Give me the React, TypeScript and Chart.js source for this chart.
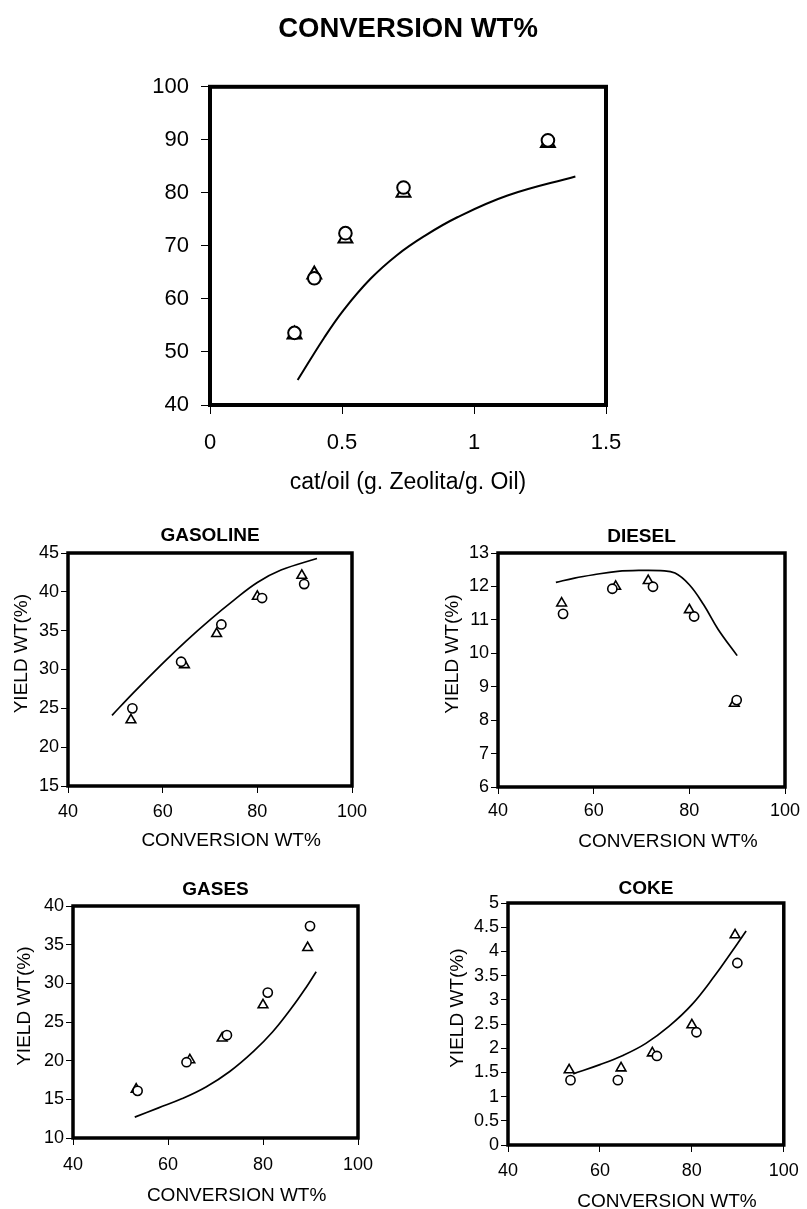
import React, { useEffect, useRef } from "react";
import { Chart, registerables } from "chart.js";

Chart.register(...registerables);

const FONT = "'Liberation Sans', Arial, Helvetica, sans-serif";

// ---------- shared experimental conversions (wt%) ----------
const conversionCircles = [53.6, 63.9, 72.4, 81.0, 89.9];
const conversionTriangles = [53.3, 64.6, 71.4, 80.0, 89.4];

// ---------- top chart: conversion vs cat/oil ----------
const catOil = [0.32, 0.395, 0.513, 0.733, 1.28];
const modelCatOil = [0.332, 0.43, 0.506, 0.608, 0.709, 0.81, 0.937, 1.127, 1.384];
const modelConversion = [44.7, 52.5, 57.9, 63.8, 68.3, 71.8, 75.4, 79.5, 83.1];
const topXTicks = [0, 0.5, 1, 1.5];
const topYTicks = [40, 50, 60, 70, 80, 90, 100];

// ---------- gasoline ----------
const gasolineCircles = [25.0, 31.0, 35.8, 39.2, 41.0];
const gasolineTriangles = [23.5, 30.6, 34.6, 39.4, 42.1];
const gasolineModelX = [49.3, 53.8, 60, 65, 70, 75, 80, 85, 92.6];
const gasolineModelY = [24.1, 27.0, 30.8, 33.7, 36.4, 38.9, 41.2, 42.8, 44.3];
const gasolineYTicks = [15, 20, 25, 30, 35, 40, 45];

// ---------- diesel ----------
const dieselCircles = [11.18, 11.93, 11.99, 11.1, 8.6];
const dieselTriangles = [11.5, 12.0, 12.17, 11.3, 8.5];
const dieselModelX = [52.1, 56, 60, 65, 70, 74, 77, 80, 83, 86, 90];
const dieselModelY = [12.12, 12.25, 12.35, 12.45, 12.48, 12.47, 12.4, 12.05, 11.45, 10.72, 9.93];
const dieselYTicks = [6, 7, 8, 9, 10, 11, 12, 13];

// ---------- gases ----------
const gasesCircles = [16.1, 19.8, 23.3, 28.8, 37.4];
const gasesTriangles = [16.3, 20.1, 22.9, 27.2, 34.6];
const gasesModelX = [53, 58, 63, 68, 73, 78, 82, 86, 89, 91.2];
const gasesModelY = [12.7, 13.9, 15.1, 16.6, 18.6, 21.2, 23.7, 26.8, 29.4, 31.5];
const gasesYTicks = [10, 15, 20, 25, 30, 35, 40];

// ---------- coke ----------
const cokeCircles = [1.34, 1.34, 1.84, 2.33, 3.76];
const cokeTriangles = [1.55, 1.59, 1.9, 2.48, 4.34];
const cokeModelX = [54.2, 60, 65, 70, 75, 80, 85, 88, 91.8];
const cokeModelY = [1.47, 1.66, 1.85, 2.1, 2.45, 2.9, 3.5, 3.9, 4.42];
const cokeYTicks = [0, 0.5, 1, 1.5, 2, 2.5, 3, 3.5, 4, 4.5, 5];

const conversionXTicks = [40, 60, 80, 100];

type Box = { left: number; top: number; width: number; height: number };
type Area = { left: number; top: number; right: number; bottom: number };

type PanelSpec = {
  canvas: Box;
  area: Area;
  title: string;
  titleSize: number;
  titlePad: [number, number];
  xMin: number;
  xMax: number;
  xTicks: number[];
  yMin: number;
  yMax: number;
  yTicks: number[];
  tickSize: number;
  tickLen: number;
  xTickPad: number;
  yTickPad: number;
  xTitle: string;
  xTitleSize: number;
  xTitlePad: number;
  yTitle: string;
  yTitleSize: number;
  yTitlePad: number;
  frame: number;
  rCircle: number;
  rTriangle: number;
  markerBorder: number;
  lineWidth: number;
  cx: number[];
  cy: number[];
  tx: number[];
  ty: number[];
  lx: number[];
  ly: number[];
};

const framePlugin = {
  id: "frame",
  beforeDatasetsDraw(chart: any, _args: any, opts: any) {
    const { left, top, right, bottom } = chart.chartArea;
    const ctx = chart.ctx;
    ctx.save();
    ctx.strokeStyle = "#000";
    ctx.lineWidth = opts.width || 3;
    ctx.strokeRect(left, top, right - left, bottom - top);
    ctx.restore();
  },
};

function pts(xs: number[], ys: number[]) {
  return xs.map((x, i) => ({ x, y: ys[i] }));
}

function makeConfig(p: PanelSpec) {
  const yWidth = p.area.left - p.canvas.left;
  const xHeight = p.canvas.top + p.canvas.height - p.area.bottom;
  const padRight = p.canvas.left + p.canvas.width - p.area.right;
  const grid = {
    display: true,
    drawOnChartArea: false,
    drawTicks: true,
    tickLength: p.tickLen,
    color: "#000",
    lineWidth: 1,
  };
  return {
    type: "scatter",
    data: {
      datasets: [
        {
          label: "circles",
          data: pts(p.cx, p.cy),
          pointStyle: "circle",
          pointRadius: p.rCircle,
          pointBorderWidth: p.markerBorder,
          pointBorderColor: "#000",
          pointBackgroundColor: "#fff",
          showLine: false,
        },
        {
          label: "triangles",
          data: pts(p.tx, p.ty),
          pointStyle: "triangle",
          pointRadius: p.rTriangle,
          pointBorderWidth: p.markerBorder,
          pointBorderColor: "#000",
          pointBackgroundColor: "#fff",
          showLine: false,
        },
        {
          label: "model",
          data: pts(p.lx, p.ly),
          showLine: true,
          pointRadius: 0,
          borderColor: "#000",
          borderWidth: p.lineWidth,
          tension: 0.4,
          fill: false,
        },
      ],
    },
    options: {
      responsive: false,
      maintainAspectRatio: false,
      animation: false,
      events: [],
      devicePixelRatio: 1,
      layout: { padding: { left: 0, top: 0, right: padRight, bottom: 0 } },
      plugins: {
        legend: { display: false },
        tooltip: { enabled: false },
        title: {
          display: true,
          text: p.title,
          fullSize: false,
          color: "#000",
          font: { family: FONT, size: p.titleSize, weight: "bold", lineHeight: 1.2 },
          padding: { top: p.titlePad[0], bottom: p.titlePad[1] },
        },
        frame: { width: p.frame },
      },
      scales: {
        x: {
          type: "linear",
          position: "bottom",
          min: p.xMin,
          max: p.xMax,
          afterFit: (s: any) => {
            s.height = xHeight;
          },
          afterBuildTicks: (s: any) => {
            s.ticks = p.xTicks.map((value) => ({ value }));
          },
          ticks: {
            color: "#000",
            autoSkip: false,
            maxRotation: 0,
            padding: p.xTickPad,
            font: { family: FONT, size: p.tickSize, lineHeight: 1.2 },
            callback: (v: any) => String(v),
          },
          grid,
          border: { display: false },
          title: {
            display: true,
            text: p.xTitle,
            color: "#000",
            font: { family: FONT, size: p.xTitleSize, lineHeight: 1.2 },
            padding: { top: 0, bottom: p.xTitlePad },
          },
        },
        y: {
          type: "linear",
          position: "left",
          min: p.yMin,
          max: p.yMax,
          afterFit: (s: any) => {
            s.width = yWidth;
          },
          afterBuildTicks: (s: any) => {
            s.ticks = p.yTicks.map((value) => ({ value }));
          },
          ticks: {
            color: "#000",
            autoSkip: false,
            padding: p.yTickPad,
            font: { family: FONT, size: p.tickSize, lineHeight: 1.2 },
            callback: (v: any) => String(v),
          },
          grid,
          border: { display: false },
          title: {
            display: p.yTitle.length > 0,
            text: p.yTitle,
            color: "#000",
            font: { family: FONT, size: p.yTitleSize, lineHeight: 1.2 },
            padding: { top: p.yTitlePad, bottom: 0 },
          },
        },
      },
    },
    plugins: [framePlugin],
  };
}

const Y_TITLE = "      YIELD WT(%)";
const subCommon = {
  titleSize: 19,
  xMin: 40,
  xMax: 100,
  xTicks: conversionXTicks,
  tickSize: 18,
  tickLen: 7,
  yTickPad: 2,
  xTitleSize: 19,
  yTitle: Y_TITLE,
  yTitleSize: 19,
  frame: 3.5,
  rCircle: 4.6,
  rTriangle: 5.6,
  markerBorder: 1.6,
  lineWidth: 1.7,
  cx: conversionCircles,
  tx: conversionTriangles,
};

const panels: PanelSpec[] = [
  {
    canvas: { left: 0, top: 0, width: 807, height: 510 },
    area: { left: 210, top: 86, right: 606, bottom: 405 },
    title: "CONVERSION WT%",
    titleSize: 27.5,
    titlePad: [13, 40.8],
    xMin: 0,
    xMax: 1.5,
    xTicks: topXTicks,
    yMin: 40,
    yMax: 100,
    yTicks: topYTicks,
    tickSize: 22,
    tickLen: 9,
    xTickPad: 16,
    yTickPad: 12,
    xTitle: "cat/oil (g. Zeolita/g. Oil)",
    xTitleSize: 23,
    xTitlePad: 13.5,
    yTitle: "",
    yTitleSize: 20,
    yTitlePad: 0,
    frame: 4,
    rCircle: 6.3,
    rTriangle: 8,
    markerBorder: 2,
    lineWidth: 2,
    cx: catOil,
    cy: conversionCircles,
    tx: catOil,
    ty: conversionTriangles,
    lx: modelCatOil,
    ly: modelConversion,
  },
  {
    ...subCommon,
    canvas: { left: 0, top: 510, width: 400, height: 345 },
    area: { left: 68, top: 553, right: 352, bottom: 786 },
    title: "GASOLINE",
    titlePad: [14.1, 6.1],
    yMin: 15,
    yMax: 45,
    yTicks: gasolineYTicks,
    xTickPad: 8,
    xTitle: "        CONVERSION WT%",
    xTitlePad: 2.6,
    yTitlePad: 10.6,
    cy: gasolineCircles,
    ty: gasolineTriangles,
    lx: gasolineModelX,
    ly: gasolineModelY,
  },
  {
    ...subCommon,
    canvas: { left: 400, top: 510, width: 407, height: 345 },
    area: { left: 498, top: 553, right: 785, bottom: 787 },
    title: "DIESEL",
    titlePad: [15.1, 5.1],
    yMin: 6,
    yMax: 13,
    yTicks: dieselYTicks,
    xTickPad: 6.7,
    xTitle: "          CONVERSION WT%",
    xTitlePad: 1.6,
    yTitlePad: 41.6,
    cy: dieselCircles,
    ty: dieselTriangles,
    lx: dieselModelX,
    ly: dieselModelY,
  },
  {
    ...subCommon,
    canvas: { left: 0, top: 855, width: 400, height: 354 },
    area: { left: 73, top: 906, right: 358, bottom: 1138 },
    title: "GASES",
    titlePad: [23.6, 4.6],
    yMin: 10,
    yMax: 40,
    yTicks: gasesYTicks,
    xTickPad: 9.2,
    xTitle: "        CONVERSION WT%",
    xTitlePad: 1.6,
    yTitlePad: 13.6,
    cy: gasesCircles,
    ty: gasesTriangles,
    lx: gasesModelX,
    ly: gasesModelY,
  },
  {
    ...subCommon,
    canvas: { left: 400, top: 855, width: 407, height: 354 },
    area: { left: 508, top: 903, right: 787, bottom: 1145 },
    title: "COKE",
    titlePad: [22.6, 2.6],
    yMin: 0,
    yMax: 5,
    yTicks: cokeYTicks,
    xTickPad: 8.2,
    xTitle: "        CONVERSION WT%",
    xTitlePad: -4.4,
    yTitlePad: 46.6,
    cy: cokeCircles,
    ty: cokeTriangles,
    lx: cokeModelX,
    ly: cokeModelY,
  },
];

function Panel({ spec }: { spec: PanelSpec }) {
  const ref = useRef<HTMLCanvasElement | null>(null);
  useEffect(() => {
    if (!ref.current) return;
    const chart = new Chart(ref.current, makeConfig(spec) as any);
    return () => chart.destroy();
  }, [spec]);
  const c = spec.canvas;
  return (
    <canvas
      ref={ref}
      width={c.width}
      height={c.height}
      style={{
        position: "absolute",
        left: c.left,
        top: c.top,
        width: c.width,
        height: c.height,
        display: "block",
      }}
    />
  );
}

export default function App() {
  return (
    <div
      style={{
        position: "absolute",
        left: 0,
        top: 0,
        width: 807,
        height: 1209,
        background: "#fff",
        overflow: "hidden",
      }}
    >
      {panels.map((p, i) => (
        <Panel key={i} spec={p} />
      ))}
    </div>
  );
}
